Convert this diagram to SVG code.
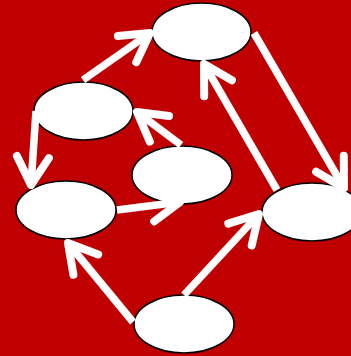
<svg xmlns="http://www.w3.org/2000/svg" width="351" height="356" viewBox="0 0 351 356">
<defs>
<style>
.node{fill:#fff;stroke:#000;stroke-width:1.5}
.edge{fill:none;stroke:#fff;stroke-width:7.5;stroke-linecap:butt;marker-end:url(#ah)}
</style>
<marker id="ah" markerUnits="userSpaceOnUse" orient="auto" markerWidth="10" markerHeight="10" refX="0" refY="0" overflow="visible">
<path d="M-28,-16 L0,0 L-28,16" fill="none" stroke="#fff" stroke-width="8" stroke-linecap="round" stroke-linejoin="round"/>
</marker>
</defs>
<rect width="351" height="356" fill="#c00000"/>
<g id="n1"><ellipse class="node" cx="201.5" cy="32" rx="49.5" ry="29"/></g>
<g id="n2"><ellipse class="node" cx="83.5" cy="111" rx="49.5" ry="29"/></g>
<g id="n3"><ellipse class="node" cx="182" cy="175" rx="50" ry="29"/></g>
<g id="n4"><ellipse class="node" cx="66" cy="210" rx="50" ry="29"/></g>
<g id="n5"><ellipse class="node" cx="312" cy="212" rx="50" ry="29"/></g>
<g id="n6"><ellipse class="node" cx="184" cy="324" rx="50" ry="29"/></g>
<g id="edges">
<line class="edge" x1="83" y1="80" x2="150" y2="33"/>
<line class="edge" x1="254" y1="33" x2="344" y2="188"/>
<line class="edge" x1="277" y1="190" x2="204" y2="64"/>
<line class="edge" x1="181" y1="145" x2="137" y2="112"/>
<line class="edge" x1="36" y1="111" x2="31" y2="185"/>
<line class="edge" x1="117" y1="210" x2="180" y2="202"/>
<line class="edge" x1="133" y1="322" x2="68" y2="243"/>
<line class="edge" x1="184" y1="295" x2="259" y2="214"/>
</g>
</svg>
